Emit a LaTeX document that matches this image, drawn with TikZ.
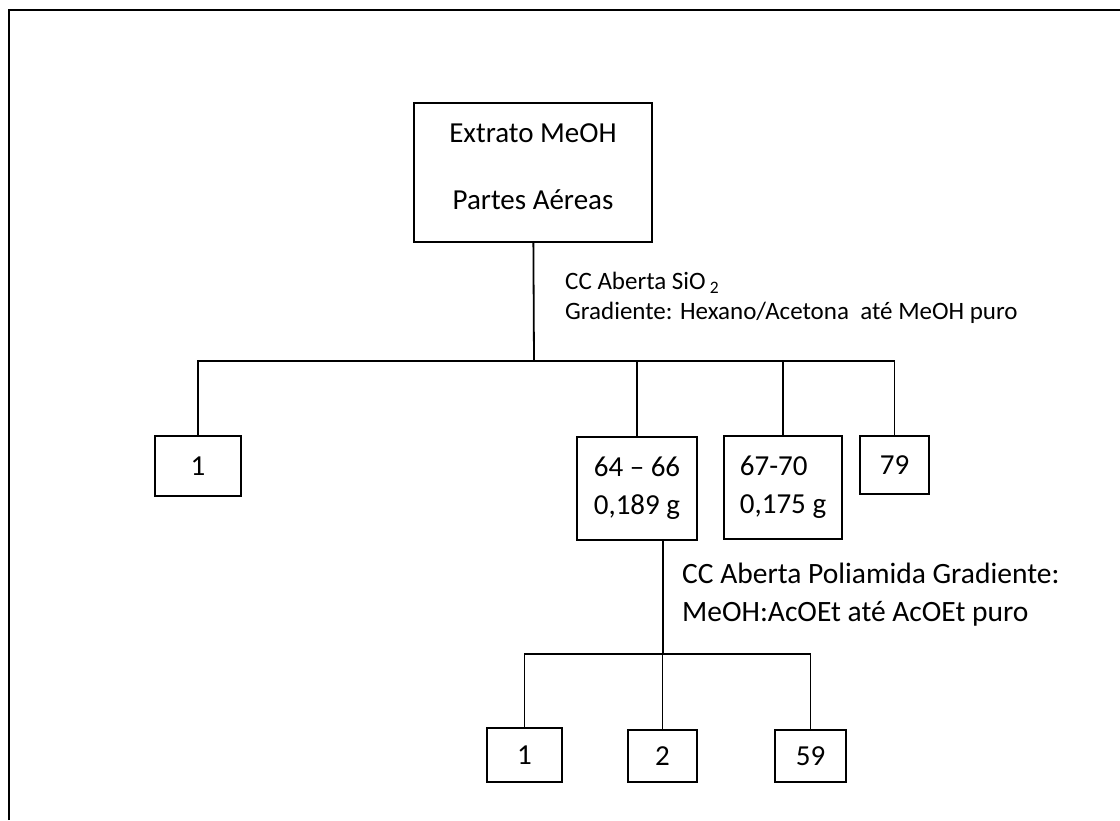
\documentclass[tikz,border=0pt]{standalone}
\usepackage{fontspec}
\setmainfont{Carlito}

\begin{document}
\begin{tikzpicture}[x=1pt, y=-1pt]
      \tikzstyle{fraction} = [rectangle, draw=black, line width=1.9pt, inner sep=0pt, align=left, font=\fontsize{29}{38}\selectfont]
      \tikzstyle{note} = [anchor=west, align=left, inner sep=0pt]
      \tikzstyle{link} = [draw=black, line width=1.8pt]

      \useasboundingbox (0,0) rectangle (1120,820);
      \draw[line width=2.2pt] (9,820) -- (9,10) -- (1120,10);

      % extrato bruto
      \node (root) [fraction, align=center, text depth=11pt, minimum width=238pt, minimum height=139pt] at (533,172.5) {Extrato MeOH\\[29pt]Partes Aéreas};
      \coordinate (split-1) at (534,361);

      % primeira coluna
      \node (F-1) [fraction, minimum width=86pt, minimum height=60pt] at (198,466) {1};
      \node (F-64) [fraction, minimum width=120pt, minimum height=103pt] at (637,488.5) {64 – 66\\0,189 g};
      \node (F-67) [fraction, minimum width=118pt, minimum height=103pt] at (783,487.5) {67-70\\0,175 g};
      \node (F-79) [fraction, minimum width=69pt, minimum height=58pt] at (894.5,465) {79};
      \node (cc-1) [note, font=\fontsize{25}{30}\selectfont] at (565,298) {CC Aberta SiO\,\textsubscript{2}\\Gradiente: Hexano/Acetona\ \ até MeOH puro};

      \draw [link] (root) -- (split-1);
      \foreach \i in {1, 64, 67, 79}
      {
        \draw [link] (split-1) -| (F-\i.north);
      }

      % segunda coluna
      \coordinate (split-2) at (663,654);
      \node (G-1) [fraction, minimum width=75pt, minimum height=54pt] at (524.5,755) {1};
      \node (G-2) [fraction, minimum width=69pt, minimum height=52pt] at (662.5,756) {2};
      \node (G-59) [fraction, minimum width=71pt, minimum height=52pt] at (810.5,756) {59};
      \node (cc-2) [note, font=\fontsize{29.5}{38}\selectfont] at (682,595) {CC Aberta Poliamida Gradiente:\\MeOH:AcOEt até AcOEt puro};

      \draw [link] (F-64.south -| split-2) -- (split-2);
      \foreach \i in {1, 2, 59}
      {
        \draw [link] (split-2) -| (G-\i.north);
      }
\end{tikzpicture}
\end{document}
